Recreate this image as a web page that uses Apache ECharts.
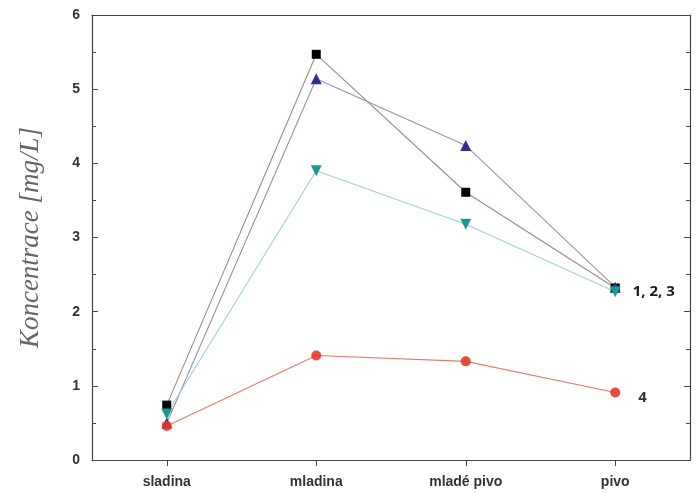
<!DOCTYPE html>
<html><head><meta charset="utf-8">
<script src="https://cdn.jsdelivr.net/npm/echarts@6/dist/echarts.min.js"></script>
<style>html,body{margin:0;padding:0;background:#fff}#c{width:697px;height:493px}</style>
</head><body><div id="c"></div>
<script>
const categories = ['sladina', 'mladina', 'mladé pivo', 'pivo'];
const s1 = [0.74, 5.47, 3.61, 2.32];   // black squares
const s2 = [0.50, 5.14, 4.24, 2.33];   // blue triangles
const s3 = [0.62, 3.90, 3.18, 2.27];   // teal down-triangles
const s4 = [0.46, 1.41, 1.33, 0.91];   // red circles
const yTicks = [0, 1, 2, 3, 4, 5, 6];
const endLabels = ['1, 2, 3', '4'];

const chart = echarts.init(document.getElementById('c'));
function mk(vals, label, offset) {
  return vals.map((v, i) => {
    const d = { value: v };
    if (label && i === vals.length - 1) {
      d.label = { show: true, position: 'right', distance: 12, offset: offset || [0, 0], formatter: label,
        fontFamily: 'Open Sans', fontWeight: 'bold', fontSize: 15, color: '#1a1a1a' };
    }
    return d;
  });
}
const axisFont = { fontFamily: 'Liberation Sans', fontWeight: 'bold', fontSize: 14, color: '#333' };
chart.setOption({
  animation: false,
  grid: { left: 92, right: 7, top: 15, bottom: 33 },
  xAxis: [{
    type: 'category', data: categories, boundaryGap: true,
    axisLine: { show: true, onZero: false, lineStyle: { color: '#444', width: 1.2 } },
    axisTick: { show: true, inside: false, alignWithLabel: true, length: 6, lineStyle: { color: '#444' } },
    axisLabel: Object.assign({ margin: 15 }, axisFont),
    splitLine: { show: false }
  }, {
    type: 'category', data: categories, boundaryGap: true, position: 'top',
    axisLine: { show: true, onZero: false, lineStyle: { color: '#444', width: 1.2 } },
    axisTick: { show: false }, axisLabel: { show: false }, splitLine: { show: false }
  }],
  yAxis: [{
    type: 'value', min: 0, max: 6, interval: 1,
    name: 'Koncentrace [mg/L]', nameLocation: 'middle', nameGap: 48,
    nameTextStyle: { fontFamily: 'Liberation Serif', fontStyle: 'italic', fontSize: 27, color: '#666' },
    axisLine: { show: true, onZero: false, lineStyle: { color: '#444', width: 1.2 } },
    axisTick: { show: true, inside: true, length: 6, lineStyle: { color: '#444' } },
    minorTick: { show: true, splitNumber: 2, length: 4, lineStyle: { color: '#444' } },
    axisLabel: Object.assign({ margin: 12, formatter: v => yTicks.includes(v) ? String(v) : '' }, axisFont),
    splitLine: { show: false }
  }, {
    type: 'value', min: 0, max: 6, interval: 1, position: 'right',
    axisLine: { show: true, onZero: false, lineStyle: { color: '#444', width: 1.2 } },
    axisTick: { show: true, inside: true, length: 6, lineStyle: { color: '#444' } },
    minorTick: { show: true, splitNumber: 2, length: 4, lineStyle: { color: '#444' } },
    axisLabel: { show: false }, splitLine: { show: false }
  }],
  series: [
    { type: 'line', data: mk(s1), symbol: 'rect', symbolSize: 9,
      lineStyle: { color: '#9a8a88', width: 1.1 }, itemStyle: { color: '#000' } },
    { type: 'line', data: mk(s2), symbol: 'triangle', symbolSize: 11,
      lineStyle: { color: '#9a8fb0', width: 1.1 }, itemStyle: { color: '#2e2e96' } },
    { type: 'line', data: mk(s3, endLabels[0]), symbol: 'triangle', symbolRotate: 180, symbolSize: 11,
      lineStyle: { color: '#98d2d4', width: 1.1 }, itemStyle: { color: '#1a9a8c' } },
    { type: 'line', data: mk(s4, endLabels[1], [6, 5]), symbol: 'circle', symbolSize: 10,
      lineStyle: { color: '#e57b6a', width: 1.1 }, itemStyle: { color: '#e8372a', opacity: 0.9 } }
  ]
});
</script></body></html>
